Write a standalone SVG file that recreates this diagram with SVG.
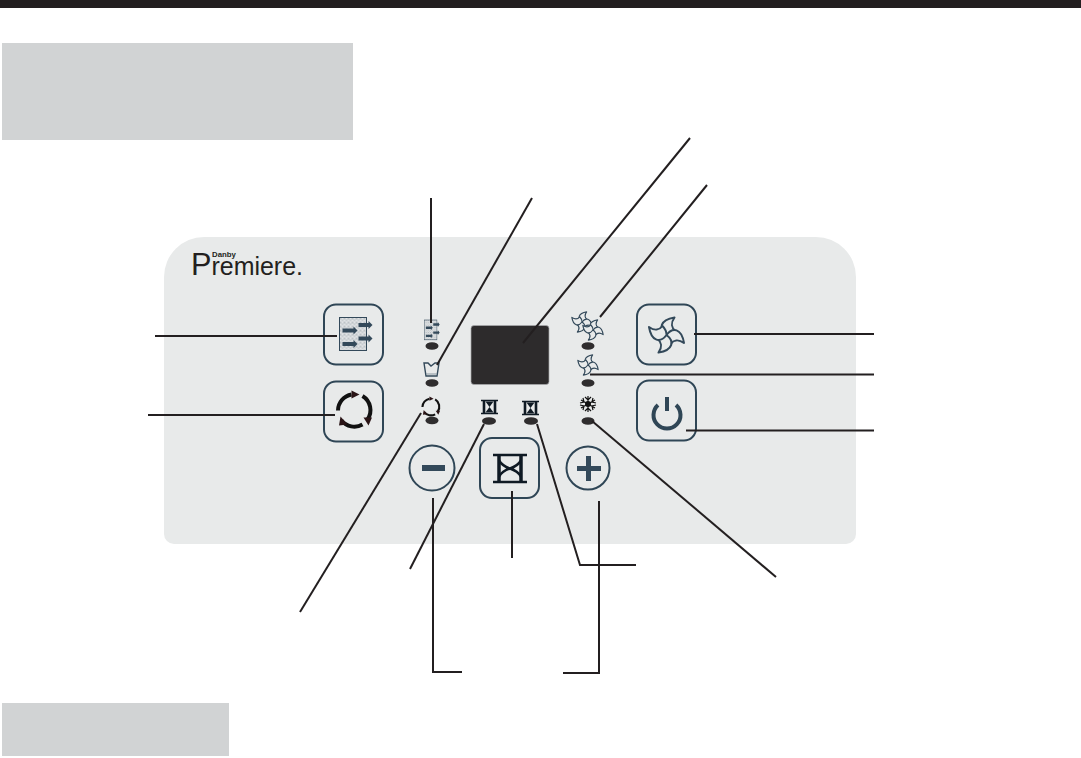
<svg xmlns="http://www.w3.org/2000/svg" width="1081" height="758" viewBox="0 0 1081 758">
<style>
.btn{fill:#e8eaea;stroke:#2f4656;stroke-width:2}
.led{fill:#2f2d2e}
.ln{fill:none;stroke:#231f20;stroke-width:2}
.blk{fill:none;stroke:#0f1a24}
.logo{font-family:"Liberation Sans",Arial,sans-serif;fill:#231f20}
</style>
<defs>
<pattern id="dots" width="4" height="4" patternUnits="userSpaceOnUse">
<circle cx="1" cy="1" r=".6" fill="#44545f"/><circle cx="3" cy="2.800" r=".5" fill="#66757f"/>
</pattern>
<g id="fan">
<g id="bl"><path d="M0,0C-8,-6-7,-15 8,-17.500C4,-12 5,-7 9,-4C6,-1 2,0 0,0Z" fill="#e8eaea" stroke="#33495a" stroke-width="2" stroke-linejoin="round"/></g>
<use href="#bl" transform="rotate(90)"/><use href="#bl" transform="rotate(180)"/><use href="#bl" transform="rotate(270)"/>
</g>
<g id="filt">
<rect x="0" y="0" width="27" height="33" fill="#e0e3e5"/>
<rect x="0" y="0" width="27" height="33" fill="url(#dots)" stroke="#33495a" stroke-width="1"/>
<g fill="#33495a"><path d="M19,5.500h10v-2l4,4-4,4v-2h-10Z"/><path d="M3,11h11v-2l4,4-4,4v-2h-11Z"/><path d="M19,19h10v-2l4,4-4,4v-2h-10Z"/><path d="M3,24.500h11v-2l4,4-4,4v-2h-11Z"/></g>
</g>
<g id="hg">
<path d="M-17,-13.500H17M-17,13.500H17" class="blk" stroke-width="2.500"/>
<path d="M-11,-13.500V13.500M11,-13.500V13.500" class="blk" stroke-width="3.500"/>
<path d="M-11,-8C-8,-3-3,-1 0,0C3,-1 8,-3 11,-8M-11,8C-8,3-3,1 0,0C3,1 8,3 11,8" class="blk" stroke-width="2.500"/>
</g>
<g id="hgs">
<path d="M-8.500,-6.500H8.500M-8.500,6.500H8.500" class="blk" stroke-width="1.300"/>
<path d="M-5.500,-6.500V6.500M5.500,-6.500V6.500" class="blk" stroke-width="2.600"/>
<path d="M-4,-5.500H4L0,0ZM-4,5.500H4L0,0Z" fill="#0f1a24"/>
</g>
<g id="cyc">
<path d="M-16.500,0A16.500,16.500 0 0 1 -3,-16M8,-14.500A16.500,16.500 0 0 1 13,9M8,14A16.500,16.500 0 0 1 -13,10" fill="none" stroke="#111" stroke-width="4"/>
<path d="M-3,-20L5,-16L-3,-12ZM9,7L17.500,7L14,15ZM-14,6L-15.500,15L-7,14Z" fill="#2a1416"/>
</g>
</defs>
<rect width="1081" height="758" fill="#fff"/>
<rect id="top-bar" x="0" y="0" width="1081" height="8" fill="#231f20"/>
<rect id="title-box" x="2" y="43" width="351" height="97" fill="#d1d3d4"/>
<rect id="footer-box" x="2" y="703" width="227" height="53" fill="#d1d3d4"/>
<g id="panel">
<path d="M204,237H816A40,40 0 0 1 856,277V534A10,10 0 0 1 846,544H174A10,10 0 0 1 164,534V277A40,40 0 0 1 204,237Z" fill="#e8eaea"/>
</g>
<g id="logo">
<text class="logo" x="191" y="275" font-size="26" textLength="112" lengthAdjust="spacingAndGlyphs"><tspan font-size="32">P</tspan>remiere.</text>
<text class="logo" x="212" y="257" font-size="7.800" font-weight="700">Danby</text>
</g>
<g id="filter-button"><rect class="btn" x="324" y="304.500" width="59" height="60" rx="12"/><use href="#filt" x="339.500" y="317.500"/></g>
<g id="cycle-button"><rect class="btn" x="324" y="381.500" width="59" height="60" rx="12"/><use href="#cyc" transform="translate(354.500,410.500)"/></g>
<g id="fan-button"><rect class="btn" x="637" y="304.500" width="59" height="60" rx="12"/><use href="#fan" transform="translate(666.500,335)"/></g>
<g id="power-button"><rect class="btn" x="637" y="380.500" width="59" height="60" rx="12"/>
<path d="M658,405A13.500,13.500 0 1 0 676,405" fill="none" stroke="#2f4656" stroke-width="4"/><path d="M667,397V411" fill="none" stroke="#2f4656" stroke-width="4"/></g>
<g id="minus-button"><circle class="btn" cx="432" cy="468" r="22.500"/><rect x="422" y="465" width="23" height="6" fill="#33495a"/></g>
<g id="timer-button"><rect class="btn" x="480" y="438" width="59" height="60" rx="12"/><use href="#hg" transform="translate(510,468.500)"/></g>
<g id="plus-button"><circle class="btn" cx="588" cy="468" r="21.500"/><path d="M577,466h9v-10h5v10h10v5h-10v10h-5v-10h-9Z" fill="#33495a"/></g>
<g id="display"><rect x="471" y="325.500" width="78" height="59" rx="3" fill="#2d2b2c" stroke="#a9abad" stroke-width=".7"/></g>
<g id="ind-filter"><use href="#filt" transform="translate(424.500,320) scale(.46,.6)"/><ellipse class="led" cx="432" cy="346" rx="6.500" ry="3.800"/></g>
<g id="ind-water"><path d="M424,363H428L431,366L435,363H439L437,376H426Z" fill="none" stroke="#33495a" stroke-width="1.400"/><path d="M426,374H437" stroke="#8a98a2" stroke-width="1"/><ellipse class="led" cx="432" cy="383" rx="6.500" ry="3.800"/></g>
<g id="ind-cycle"><use href="#cyc" transform="translate(431,407) scale(.52)"/><ellipse class="led" cx="432" cy="420.500" rx="6.500" ry="3.800"/></g>
<g id="ind-timer-a"><use href="#hgs" transform="translate(489.500,407)"/><ellipse class="led" cx="489" cy="421" rx="7" ry="3.800"/></g>
<g id="ind-timer-b"><use href="#hgs" transform="translate(530.500,408)"/><ellipse class="led" cx="531" cy="421" rx="7" ry="3.800"/></g>
<g id="ind-fan-high"><use href="#fan" transform="translate(582,322) scale(.58)"/><use href="#fan" transform="translate(593,330) scale(.58)"/><ellipse class="led" cx="588" cy="346" rx="6.500" ry="3.800"/></g>
<g id="ind-fan-low"><use href="#fan" transform="translate(588,365) scale(.58)"/><ellipse class="led" cx="588" cy="383" rx="6.500" ry="3.800"/></g>
<g id="ind-cool"><path d="M588,396V412M581,400L595,408M595,400L581,408M585,397L588,400L591,397M585,411L588,408L591,411M580,403L584,402L583,398M596,403L592,402L593,398M580,405L584,406L583,410M596,405L592,406L593,410" fill="none" stroke="#111" stroke-width="1.200"/><circle cx="588" cy="404" r="3" fill="#111"/><ellipse class="led" cx="588" cy="421" rx="6.500" ry="3.800"/></g>
<g id="connectors">
<path class="ln" d="M431,198V323"/>
<path class="ln" d="M532,198L437,365"/>
<path class="ln" d="M690,138L523,343"/>
<path class="ln" d="M707,185L600,317"/>
<path class="ln" d="M155,336H337"/>
<path class="ln" d="M148,415H335"/>
<path class="ln" d="M874,334H694"/>
<path class="ln" d="M874,374.500H590"/>
<path class="ln" d="M874,430.500H686"/>
<path class="ln" d="M300,612L421,413"/>
<path class="ln" d="M410,569L484,424"/>
<path class="ln" d="M433,498V672H462"/>
<path class="ln" d="M512,491V558"/>
<path class="ln" d="M537,424L580,565H636"/>
<path class="ln" d="M599,501V673H563"/>
<path class="ln" d="M592,421L776,577"/>
</g>
</svg>
